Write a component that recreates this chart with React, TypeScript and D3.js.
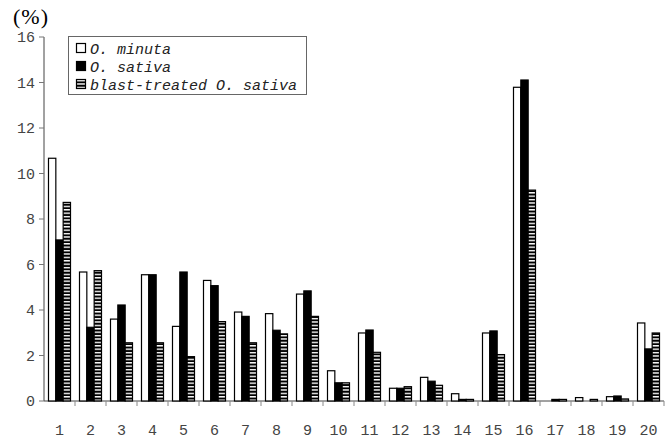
import * as d3 from 'd3';

const categories = ['1', '2', '3', '4', '5', '6', '7', '8', '9', '10', '11', '12', '13', '14', '15', '16', '17', '18', '19', '20'];
const seriesNames = ['O. minuta', 'O. sativa', 'blast-treated O. sativa'];
const minuta  = [10.67, 5.67, 3.6, 5.55, 3.28, 5.3, 3.91, 3.84, 4.7, 1.33, 2.99, 0.56, 1.04, 0.32, 2.99, 13.79, 0, 0.15, 0.19, 3.43];
const sativa  = [7.08, 3.24, 4.22, 5.55, 5.67, 5.07, 3.72, 3.11, 4.84, 0.8, 3.12, 0.56, 0.87, 0.07, 3.08, 14.11, 0.07, 0.0, 0.22, 2.29];
const blast   = [8.73, 5.73, 2.56, 2.56, 1.95, 3.49, 2.56, 2.95, 3.72, 0.8, 2.14, 0.63, 0.69, 0.07, 2.04, 9.27, 0.07, 0.07, 0.09, 2.99];
const yTicks  = [0, 2, 4, 6, 8, 10, 12, 14, 16];

const W = 670, H = 439;
const left = 44, right = 664, top = 37, bottom = 401;
const mono = '"Liberation Mono", "DejaVu Sans Mono", monospace';
const fills = ['#fff', '#000', 'url(#stripes)'];

export default function App() {
    const series = [minuta, sativa, blast];
    const x = d3.scaleBand<string>().domain(categories).range([left, right]).paddingInner(0.29).paddingOuter(0.145);
    const x1 = d3.scaleBand<number>().domain([0, 1, 2]).range([0, x.bandwidth()]);
    const y = d3.scaleLinear().domain([0, 16]).range([bottom, top]);
    const step = x.step();

    return (
        <svg width={W} height={H} style={{ position: 'absolute', left: 0, top: 0, background: '#fff' }}>
            <defs>
                <pattern id="stripes" patternUnits="userSpaceOnUse" width="4" height="3.4">
                    <rect width="4" height="3.4" fill="#000" />
                    <rect y="1.7" width="4" height="1.4" fill="#fff" />
                </pattern>
            </defs>

            <text x={13} y={24} fontFamily='"Liberation Serif", serif' fontSize={22} letterSpacing={1}>(%)</text>

            {/* y axis */}
            <line x1={left} x2={left} y1={top} y2={bottom} stroke="#444" />
            {yTicks.map(t => (
                <g key={t}>
                    <line x1={left - 5} x2={left} y1={y(t)} y2={y(t)} stroke="#777" />
                    <text x={35} y={y(t) + 5} textAnchor="end" fontFamily={mono} fontSize={15} fill="#444">{t}</text>
                </g>
            ))}

            {/* x axis */}
            <line x1={left} x2={right} y1={bottom} y2={bottom} stroke="#444" />
            {categories.map((c, i) => (
                <g key={c}>
                    <line x1={left + step * (i + 1)} x2={left + step * (i + 1)} y1={bottom} y2={bottom + 5} stroke="#888" />
                    <text x={x(c)! + x.bandwidth() / 2} y={435} textAnchor="middle" fontFamily={mono} fontSize={15} fill="#444">{c}</text>
                </g>
            ))}

            {/* bars */}
            {series.map((vals, s) => (
                <g key={s}>
                    {vals.map((v, i) => v > 0 && (
                        <rect key={i} x={x(categories[i])! + x1(s)!} y={y(v)} width={x1.bandwidth()}
                            height={bottom - y(v)} fill={fills[s]} stroke="#000" strokeWidth={1.2} />
                    ))}
                </g>
            ))}

            {/* legend */}
            <rect x={68.5} y={36.5} width={238} height={58} fill="#fff" stroke="#666" />
            {seriesNames.map((n, i) => (
                <g key={n}>
                    <rect x={76.5} y={43.5 + i * 18} width={9} height={9} fill={fills[i]} stroke="#000" strokeWidth={1.2} />
                    <text x={90} y={54 + i * 18} fontFamily={mono} fontStyle="italic" fontSize={15} fill="#222">{n}</text>
                </g>
            ))}
        </svg>
    );
}
